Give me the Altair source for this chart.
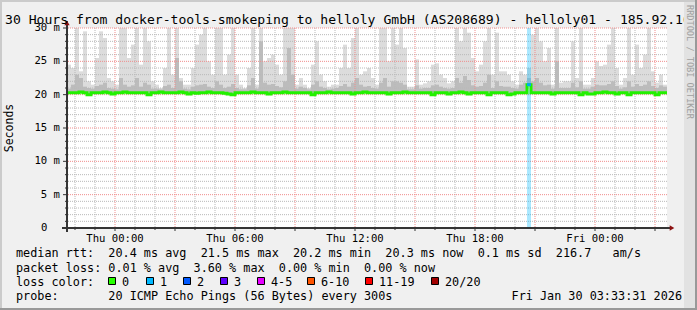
import altair as alt
import pandas as pd

# ---------------- data ----------------
T0 = -2.4      # first bin start, hours relative to Thu 00:00 (Wed 21:36)
STEP = 0.2     # bin width in hours

smoke_top = [
    24.5, 24, 30, 23.5, 29.5, 22, 21.5, 25.5, 29.5, 28.5,
    22.5, 22, 21.5, 30, 30, 25.5, 27.5, 30, 24.5, 30,
    28, 22, 21.5, 21, 24, 30, 23, 30, 22.5, 21.5,
    21.5, 24, 27.5, 29, 30, 25, 23,
    30, 30, 23, 26, 30, 23, 21.5, 21, 24, 30,
    21.5, 30, 25, 25.5, 26, 24.5, 23, 30, 30, 30,
    21.5, 22.5, 21.5, 21, 24.5, 28, 23, 22, 21.2, 21.5,
    21.5, 24, 27.5, 24, 28.5, 30, 23, 23.5,
    24, 22.5, 21.5, 30, 30, 25, 30, 27.5, 30, 27,
    21.2, 21.2, 25.3, 21.5, 21.7, 22, 24.5, 24.7, 23, 22.5,
    21.7, 22, 30, 28, 30, 29.3, 25.5, 23.5, 24.5, 28,
    30, 23, 29.3, 23.5, 23.5, 23, 22, 21.5,
    23.5, 23, 24, 29, 30, 28, 25, 27, 21.5, 30,
    21.8, 22, 22, 28, 22.5, 30, 21.5, 21.5, 22.5, 25,
    24.3, 24.5, 27.5, 30, 24, 21.5, 22.5, 30, 23, 27.5,
    24, 26, 30, 23.5, 21.8, 23, 21.5,
]

smoke_mid = [
    20.9, 21.5, 23, 22.5, 21.2, 21, 20.9, 21.3, 21.5, 21.8,
    21, 20.9, 20.8, 22.5, 21.5, 21.2, 21.4, 22.5, 21.2, 21.8,
    21.5, 20.9, 20.9, 20.8, 21.3, 21.5, 21, 25.5, 22, 20.9,
    20.8, 21.2, 21.4, 21.5, 21.6, 21.2, 21,
    22, 21.5, 21, 21.2, 21.6, 21, 20.8, 20.8, 21.4, 22.5,
    20.9, 28, 21.8, 21.5, 21.6, 21.3, 21.1, 22, 27, 23,
    20.9, 21.2, 21, 20.8, 21.5, 22, 21.2, 21, 20.8, 20.9,
    21, 21.3, 21.6, 21.2, 21.8, 22.5, 21.5, 21.2,
    21.3, 21, 20.9, 21.8, 22.5, 21.2, 22, 22, 21.8, 21.5,
    20.8, 20.8, 21.4, 20.9, 21, 21, 21.4, 21.5, 21.2, 21,
    20.9, 21, 22.5, 21.8, 22.8, 22.2, 21.4, 21.2, 21.3, 21.8,
    23, 21, 22, 21.3, 21.2, 21.2, 21, 20.9,
    21.5, 21.8, 22.5, 22, 22.5, 21.8, 21.4, 21.5, 20.9, 25,
    21, 21, 21, 21.8, 21.1, 22, 20.9, 20.9, 21.2, 21.5,
    21.4, 21.4, 21.6, 22, 21.3, 20.9, 21.1, 22, 21.2, 21.6,
    21.3, 21.5, 22, 21.3, 21, 21.4, 21.2,
]

median = [
    20.3, 20.3, 20.3, 20.4, 20.3, 20.0, 20.3, 20.3, 20.3, 20.4,
    20.3, 20.1, 20.3, 20.3, 20.4, 20.3, 20.3, 20.3, 20.3, 20.3,
    20.0, 20.3, 20.3, 20.4, 20.3, 20.3, 20.3, 20.3, 20.4, 20.3,
    20.1, 20.3, 20.2, 20.3, 20.3, 20.4, 20.3, 20.3, 20.3, 20.2,
    20.1, 20.0, 20.3, 20.3, 20.3, 20.3, 20.4, 20.3, 20.3, 20.3,
    20.1, 20.3, 20.3, 20.3, 20.4, 20.3, 20.3, 20.3, 20.3, 20.3,
    20.3, 20.0, 20.3, 20.3, 20.3, 20.4, 20.3, 20.3, 20.3, 20.3,
    20.3, 20.1, 20.3, 20.3, 20.4, 20.3, 20.3, 20.3, 20.3, 20.3,
    20.1, 20.3, 20.3, 20.3, 20.4, 20.3, 20.3, 20.3, 20.3, 20.3,
    20.3, 20.0, 20.3, 20.3, 20.3, 20.1, 20.3, 20.3, 20.4, 20.3,
    20.1, 20.3, 20.3, 20.3, 20.3, 20.0, 20.3, 20.3, 20.3, 20.3,
    20.0, 20.1, 20.3, 20.3, 20.3, 21.5, 20.3, 20.3, 20.3, 20.3,
    20.3, 20.1, 20.3, 20.3, 20.3, 20.3, 20.3, 20.3, 20.0, 20.3,
    20.1, 20.1, 20.3, 20.3, 20.4, 20.3, 20.3, 20.1, 20.3, 20.3,
    20.0, 20.3, 20.3, 20.3, 20.3, 20.3, 20.3, 20.0, 20.3, 20.3,
]

loss_bins = [115]      # bins with packet loss
loss_counts = [1]      # lost pings in that bin

legend_labels = ["0", "1", "2", "3", "4-5", "6-10", "11-19", "20/20"]
legend_colors = ["#26ff00", "#00b8ff", "#0059ff", "#5e00ff",
                 "#e600ff", "#ff5500", "#ff0000", "#a10000"]

x_tick_hours = [0, 6, 12, 18, 24]
x_tick_labels = ["Thu 00:00", "Thu 06:00", "Thu 12:00", "Thu 18:00", "Fri 00:00"]
y_tick_values = [5, 10, 15, 20, 25, 30]
y_tick_labels = ["5 m", "10 m", "15 m", "20 m", "25 m", "30 m"]

title = "30 Hours from docker-tools-smokeping to helloly GmbH (AS208689) - helloly01 - 185.92.10"
stat_rows = [
    "median rtt:  20.4 ms avg  21.5 ms max  20.2 ms min  20.3 ms now  0.1 ms sd  216.7   am/s",
    "packet loss: 0.01 % avg  3.60 % max  0.00 % min  0.00 % now",
    "loss color:",
    "probe:       20 ICMP Echo Pings (56 Bytes) every 300s",
]
stamp = "Fri Jan 30 03:33:31 2026"

# ---------------- layout ----------------
W, H = 600, 200
PADL, PADT = 67, 28
MONO = "DejaVu Sans Mono"
FS = 11.8
NB = "\u00a0"

n = len(smoke_top)
t = [T0 + i * STEP for i in range(n)]
df = pd.DataFrame({"t": t, "t2": [v + STEP for v in t],
                   "top": smoke_top, "mid": smoke_mid, "med": median})
line_df = pd.DataFrame({"t": t + [t[-1] + STEP], "med": median + [median[-1]]})
loss_df = pd.DataFrame({"t": [t[b] for b in loss_bins],
                        "t2": [t[b] + STEP for b in loss_bins],
                        "med": [median[b] for b in loss_bins],
                        "loss": loss_counts})

xs = alt.Scale(domain=[T0, T0 + n * STEP], nice=False, zero=False)
ys = alt.Scale(domain=[0, 30], nice=False, zero=False)


def X(f):
    return alt.X(f, type="quantitative", scale=xs, axis=None)


def Y(f):
    return alt.Y(f, type="quantitative", scale=ys, axis=None)


base = alt.Chart(df)
smoke_light = base.mark_rect(color="#dcdcdc", clip=True).encode(
    x=X("t"), x2="t2", y=Y("med"), y2="top")
smoke_dark = base.mark_rect(color="#bcbcbc", clip=True).encode(
    x=X("t"), x2="t2", y=Y("med"), y2="mid")

h_minor = pd.DataFrame({"v": [v for v in range(1, 30) if v % 5]})
h_major = pd.DataFrame({"v": y_tick_values})
v_minor = pd.DataFrame({"h": [h for h in range(-2, 28) if h % 3]})
v_major = pd.DataFrame({"h": [h for h in range(0, 28, 3)]})

g_minor_h = alt.Chart(h_minor).mark_rule(color="#b8b8b8", strokeDash=[1, 1], strokeWidth=1).encode(y=Y("v"))
g_minor_v = alt.Chart(v_minor).mark_rule(color="#b8b8b8", strokeDash=[1, 1], strokeWidth=1).encode(x=X("h"))
g_major_h = alt.Chart(h_major).mark_rule(color="#f08c8c", strokeDash=[1, 1], strokeWidth=1).encode(y=Y("v"))
g_major_v = alt.Chart(v_major).mark_rule(color="#f08c8c", strokeDash=[1, 1], strokeWidth=1).encode(x=X("h"))

loss_bar = alt.Chart(loss_df).mark_rect(color="#00b8ff", opacity=0.33).encode(
    x=X("t"), x2="t2", y=alt.value(0), y2=alt.value(H))

med_line = alt.Chart(line_df).mark_line(
    color="#22f000", strokeWidth=3, interpolate="step-after").encode(x=X("t"), y=Y("med"))
loss_med = alt.Chart(loss_df).mark_rule(color="#00a8f0", strokeWidth=3).encode(
    x=X("t"), x2="t2", y=Y("med"))

AX = "#333333"
y_axis = alt.Chart(h_major).mark_rule(color=AX).encode(
    x=alt.value(0), y=alt.value(-7), y2=alt.value(H + 4))
x_axis = alt.Chart(h_major).mark_rule(color=AX).encode(
    x=alt.value(-5), x2=alt.value(W + 3), y=alt.value(H))
y_ticks_major = alt.Chart(h_major).mark_rule(color=AX).encode(
    x=alt.value(-4), x2=alt.value(0), y=Y("v"))
y_ticks_minor = alt.Chart(h_minor).mark_rule(color=AX).encode(
    x=alt.value(-2), x2=alt.value(0), y=Y("v"))
x_ticks_major = alt.Chart(v_major).mark_rule(color=AX).encode(
    x=X("h"), y=alt.value(H), y2=alt.value(H + 3))
x_ticks_minor = alt.Chart(v_minor).mark_rule(color=AX).encode(
    x=X("h"), y=alt.value(H), y2=alt.value(H + 2))

ARROW = "#8b1010"
arrow_up = alt.Chart(h_major.head(1)).mark_point(
    shape="triangle-up", filled=True, color=ARROW, size=28, opacity=1).encode(
    x=alt.value(0), y=alt.value(-5))
arrow_right = alt.Chart(h_major.head(1)).mark_point(
    shape="triangle-right", filled=True, color=ARROW, size=28, opacity=1).encode(
    x=alt.value(W + 5), y=alt.value(H))

ylab = alt.Chart(pd.DataFrame({"v": y_tick_values, "lab": [s.replace(" ", NB) for s in y_tick_labels]})).mark_text(
    font=MONO, fontSize=10.6, align="right", baseline="middle", color="#000").encode(
    x=alt.value(-7), y=Y("v"), text="lab:N")
ylab0 = alt.Chart(pd.DataFrame({"v": [0], "lab": ["0"]})).mark_text(
    font=MONO, fontSize=10.6, align="left", baseline="middle", color="#000").encode(
    x=alt.value(42 - PADL - 1), y=Y("v"), text="lab:N")
xlab = alt.Chart(pd.DataFrame({"h": x_tick_hours, "lab": [s.replace(" ", NB) for s in x_tick_labels]})).mark_text(
    font=MONO, fontSize=10.6, align="center", baseline="alphabetic", color="#000").encode(
    x=X("h"), y=alt.value(214), text="lab:N")


def txt(s, x, y, **kw):
    opts = dict(font=MONO, fontSize=FS, align="left", baseline="alphabetic", color="#000")
    opts.update(kw)
    return alt.Chart(pd.DataFrame({"s": [s.replace(" ", NB)]})).mark_text(**opts).encode(
        x=alt.value(x), y=alt.value(y), text="s:N")


def box(x1, x2, y1, y2, color, **kw):
    return alt.Chart(pd.DataFrame({"a": [0]})).mark_rect(color=color, **kw).encode(
        x=alt.value(x1), x2=alt.value(x2), y=alt.value(y1), y2=alt.value(y2))


layers = [
    smoke_light, smoke_dark,
    g_minor_h, g_minor_v, g_major_h, g_major_v,
    loss_bar, med_line, loss_med,
    y_axis, x_axis, y_ticks_major, y_ticks_minor, x_ticks_major, x_ticks_minor,
    arrow_up, arrow_right, ylab, ylab0, xlab,
    txt(title, 5 - PADL, 24 - PADT, fontSize=13.1),
    txt("Seconds", 10 - PADL, 128 - PADT, angle=270, align="center", baseline="middle", fontSize=11.5),
]

row_y = [257, 271.5, 286, 300]
for s, yy in zip(stat_rows, row_y):
    layers.append(txt(s, 16 - PADL, yy - PADT))
layers.append(txt(stamp, 682 - PADL, 300 - PADT, align="right"))

legend_x = [108, 146, 183, 220, 257, 307, 365, 431]
for lx, lab, col in zip(legend_x, legend_labels, legend_colors):
    layers.append(box(lx - PADL + 0.5, lx - PADL + 7.5, 277.5 - PADT, 284.5 - PADT, col,
                      stroke="#000", strokeWidth=1))
    layers.append(txt(lab, lx - PADL + 14, 286 - PADT))

# watermark strip and frame
layers.append(box(684 - PADL, 695 - PADL, 2 - PADT, 308 - PADT, "#e2e2e2"))
layers.append(txt("RRDTOOL / TOBI OETIKER", 690 - PADL, 5 - PADT, angle=90,
                  align="left", baseline="middle", fontSize=8.6, color="#a0a0a0"))
layers.append(box(0 - PADL, 697 - PADL, 0 - PADT, 2 - PADT, "#cbcbcb"))
layers.append(box(0 - PADL, 2 - PADL, 0 - PADT, 310 - PADT, "#cbcbcb"))
layers.append(box(0 - PADL, 697 - PADL, 308 - PADT, 310 - PADT, "#999999"))
layers.append(box(695 - PADL, 697 - PADL, 0 - PADT, 310 - PADT, "#999999"))

chart = alt.layer(*layers).properties(
    width=W, height=H,
    padding={"left": PADL, "top": PADT, "right": 697 - PADL - W, "bottom": 310 - PADT - H},
    autosize=alt.AutoSizeParams(type="none"),
).configure(background="#f0f0f0").configure_view(fill="#ffffff", strokeWidth=0)

chart.save("out.html", embed_options={"renderer": "svg", "actions": False})
